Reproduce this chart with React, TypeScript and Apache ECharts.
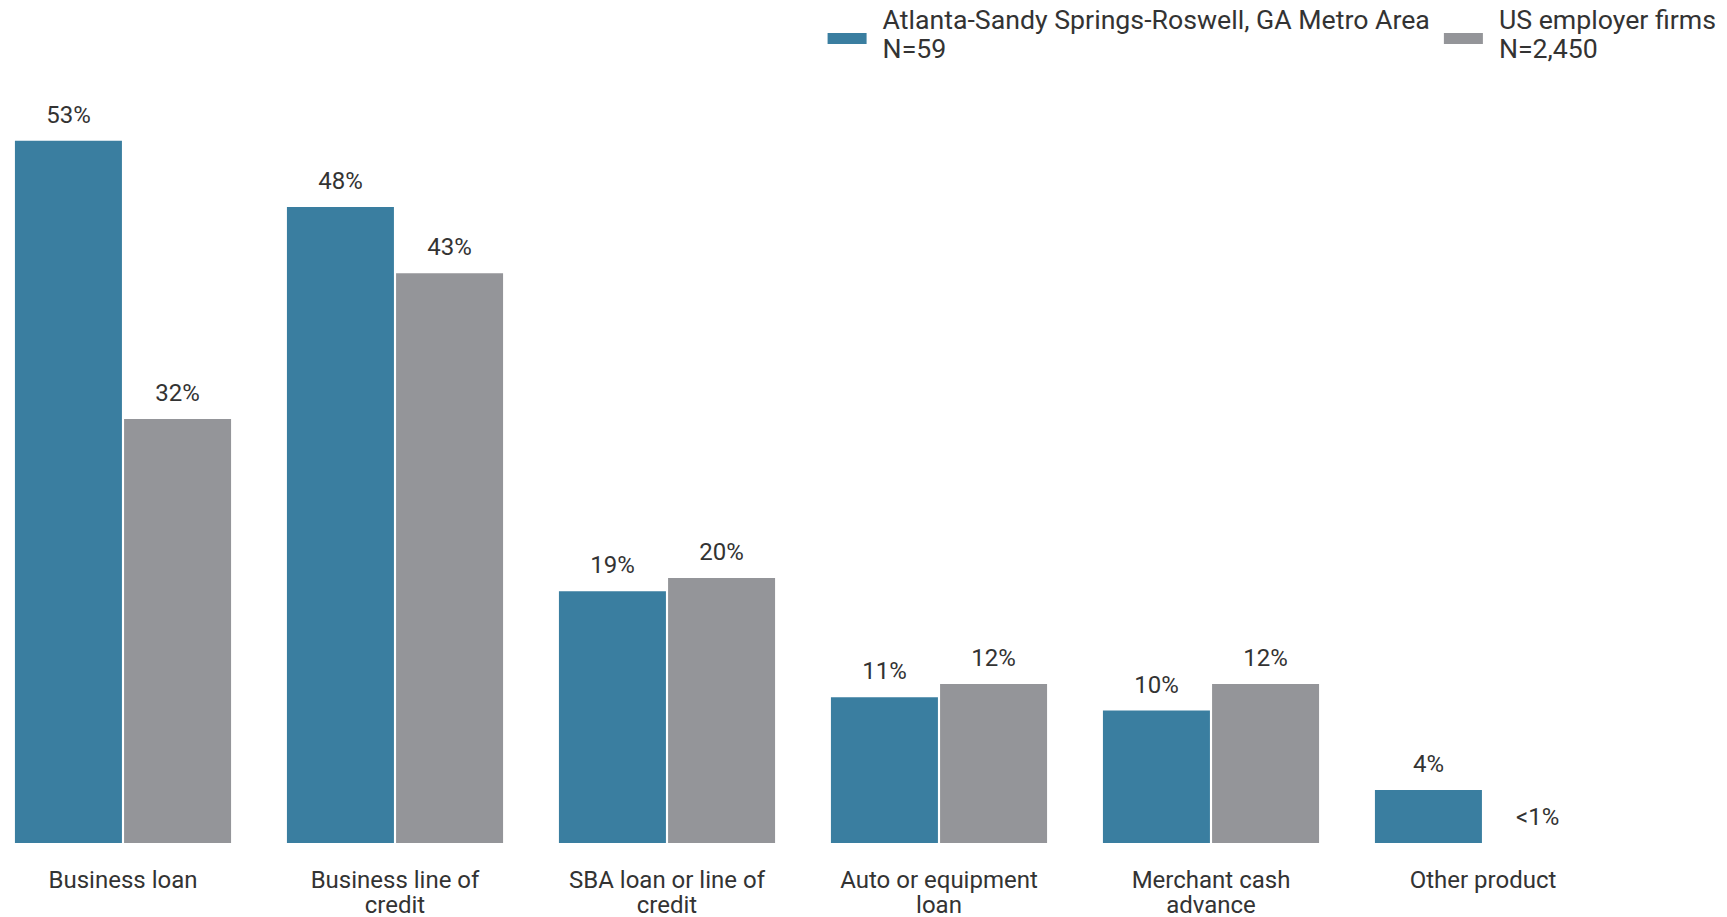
import React, { useEffect, useRef } from "react";
import * as echarts from "echarts";

const categories = [
  "Business loan",
  "Business line of\ncredit",
  "SBA loan or line of\ncredit",
  "Auto or equipment\nloan",
  "Merchant cash\nadvance",
  "Other product",
];
const atlantaName = "Atlanta-Sandy Springs-Roswell, GA Metro Area\nN=59";
const usName = "US employer firms\nN=2,450";
const atlantaValues = [53, 48, 19, 11, 10, 4];
const usValues = [32, 43, 20, 12, 12, 0];
const atlantaLabels = ["53%", "48%", "19%", "11%", "10%", "4%"];
const usLabels = ["32%", "43%", "20%", "12%", "12%", "<1%"];

const BLUE = "#3a7ea0";
const GRAY = "#949599";
const FONT = "Roboto, 'Noto Sans', sans-serif";
// swatch drawn in the lower part of its icon box (tiny dot at the top keeps the box height)
const SWATCH = "path://M0,0 L0.01,0 L0.01,0.01 Z M0,9 L39,9 L39,20 L0,20 Z";

export default function App() {
  const ref = useRef<HTMLDivElement>(null);
  useEffect(() => {
    if (!ref.current) return;
    const chart = echarts.init(ref.current, undefined, { renderer: "svg" });
    const labelStyle = {
      show: true,
      position: "top",
      distance: 14,
      fontFamily: FONT,
      fontSize: 24,
      color: "#333",
    };
    chart.setOption({
      animation: false,
      textStyle: { fontFamily: FONT },
      legend: {
        right: 6,
        top: 0,
        icon: SWATCH,
        itemWidth: 39,
        itemHeight: 20,
        itemGap: 14,
        textStyle: {
          fontFamily: FONT,
          fontSize: 26.7,
          color: "#333",
          lineHeight: 29,
          padding: [0, 0, 0, 11],
        },
        data: [atlantaName, usName],
      },
      grid: { left: 0, width: 1632, top: 48, height: 795 },
      xAxis: {
        type: "category",
        data: categories,
        axisLine: { show: false },
        axisTick: { show: false },
        axisLabel: {
          fontFamily: FONT,
          fontSize: 24,
          color: "#333",
          lineHeight: 25,
          margin: 24,
          interval: 0,
        },
      },
      yAxis: {
        type: "value",
        min: 0,
        max: 60,
        show: false,
        splitLine: { show: false },
      },
      series: [
        {
          name: atlantaName,
          type: "bar",
          data: atlantaValues,
          barWidth: 107,
          barGap: "2%",
          itemStyle: { color: BLUE },
          label: { ...labelStyle, formatter: (p: any) => atlantaLabels[p.dataIndex] },
        },
        {
          name: usName,
          type: "bar",
          data: usValues,
          barWidth: 107,
          barGap: "2%",
          itemStyle: { color: GRAY },
          label: { ...labelStyle, formatter: (p: any) => usLabels[p.dataIndex] },
        },
      ],
    });
    return () => chart.dispose();
  }, []);
  return (
    <div
      ref={ref}
      style={{ position: "absolute", left: -13, top: 0, width: 1740, height: 917 }}
    />
  );
}
